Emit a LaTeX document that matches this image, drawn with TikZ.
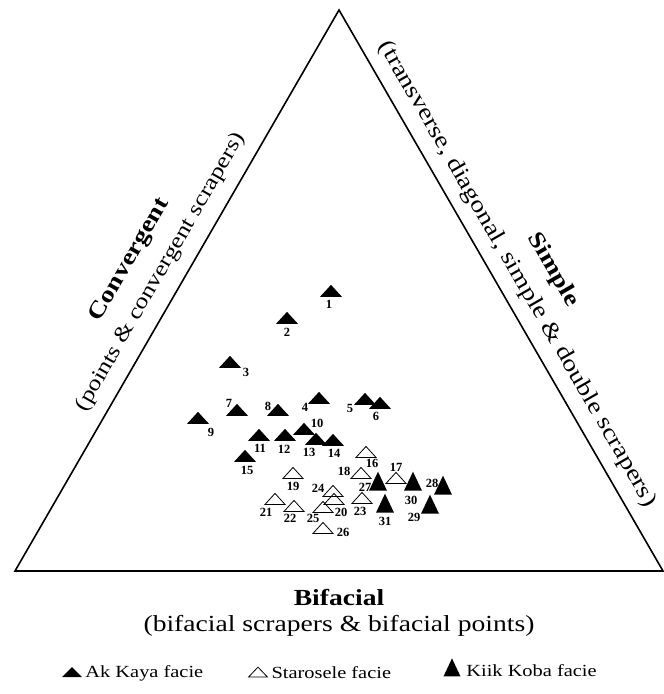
\documentclass[tikz,border=0pt]{standalone}
\usepackage{fontspec}
\setmainfont[FakeStretch=1.2]{Liberation Serif}
\newfontfamily\numfont{Liberation Serif}
\usetikzlibrary{shapes.geometric,positioning}
\tikzset{akkaya/.style={isosceles triangle, isosceles triangle stretches,
    shape border rotate=90, fill=black, inner sep=0pt,
    minimum width=22pt, minimum height=12pt}}
\tikzset{starosele/.style={isosceles triangle, isosceles triangle stretches,
    shape border rotate=90, draw=black, line width=.8pt, inner sep=0pt,
    minimum width=20pt, minimum height=11pt}}
\tikzset{kiikkoba/.style={isosceles triangle, isosceles triangle stretches,
    shape border rotate=90, fill=black, inner sep=0pt,
    minimum width=18pt, minimum height=19pt}}
\tikzset{num/.style={font=\numfont\bfseries\fontsize{12.5}{12.5}\selectfont, inner sep=0pt}}
\tikzset{axis/.style={font=\bfseries\fontsize{23}{23}\selectfont, inner sep=0pt}}
\tikzset{axissub/.style={font=\fontsize{23}{23}\selectfont, inner sep=0pt}}
\tikzset{keytext/.style={font=\fontsize{17}{17}\selectfont, inner sep=0pt}}

\begin{document}
\begin{tikzpicture}[x=1pt, y=-1pt]
    \useasboundingbox (0,0) rectangle (664,694);
    \coordinate (A) at (15,571);
    \coordinate (B) at (663,571);
    \coordinate (C) at (339,10);

    \draw[line width=1.6pt] (A) -- (C) -- (B) -- cycle;
    \draw[line width=2.4pt] (A) -- (B);

    % axis names
    \node[axis, rotate=60] (conv) at (130,260) {Convergent};
    \node[axissub, rotate=60, font=\fontsize{21.5}{21.5}\selectfont] (convsub) at (161,272)
      {(points \& convergent scrapers)};
    \node[axis, rotate=-60] (simp) at (553,270) {Simple};
    \node[axissub, rotate=-60] (simpsub) at (517,274)
      {(transverse, diagonal, simple \& double scrapers)};
    \node[axis] (bif) at (339,598) {Bifacial};
    \node[axissub] (bifsub) at (339,626) {(bifacial scrapers \& bifacial points)};

    % Ak Kaya
    \foreach \n/\px/\py/\lx/\ly in {1/331/292/329/304, 2/287/319/287/332,
      3/230/363/246/372, 4/319/399/305/407, 5/365/400/350/408,
      6/380/404/376/416, 7/237/411/229/403, 8/278/411/268/406,
      9/198/419/211/432, 10/304/430/317/423, 11/259/436/260/448,
      12/285/436/284/449, 13/316/440/309/452, 14/333/441/334/453,
      15/245/457/247/470}
    {
      \node[akkaya] (p\n) at (\px,\py) {};
      \node[num] (n\n) at (\lx,\ly) {\n};
    }

    % Starosele
    \foreach \n/\px/\py/\lx/\ly in {16/366/453/372/463, 17/396/479/396/467,
      18/361/474/344/471, 19/293/474/293/486, 20/334/500/341/512,
      21/275/500/266/512, 22/294/507/290/518, 23/362/499/360/511,
      24/333/492/318/488, 25/323/508/313/518, 26/323/529/343/532}
    {
      \node[starosele] (p\n) at (\px,\py) {};
      \node[num] (n\n) at (\lx,\ly) {\n};
    }

    % Kiik Koba
    \foreach \n/\px/\py/\lx/\ly in {27/378/485/365/487, 28/443/489/432/483,
      29/430/508/414/517, 30/413/485/411/500, 31/385/507/385/521}
    {
      \node[kiikkoba] (p\n) at (\px,\py) {};
      \node[num] (n\n) at (\lx,\ly) {\n};
    }

    % legend
    \node[akkaya, minimum width=20pt, minimum height=10pt] (keyak) at (72,673) {};
    \node[keytext, right=7pt of keyak] (keyaktext) {Ak Kaya facie};
    \node[starosele, minimum width=19pt, minimum height=10pt] (keyst) at (258,673) {};
    \node[keytext, right=7pt of keyst] (keysttext) {Starosele facie};
    \node[kiikkoba, minimum width=17pt, minimum height=18pt] (keykk) at (452,671) {};
    \node[keytext, right=8pt of keykk] (keykktext) {Kiik Koba facie};
\end{tikzpicture}
\end{document}
